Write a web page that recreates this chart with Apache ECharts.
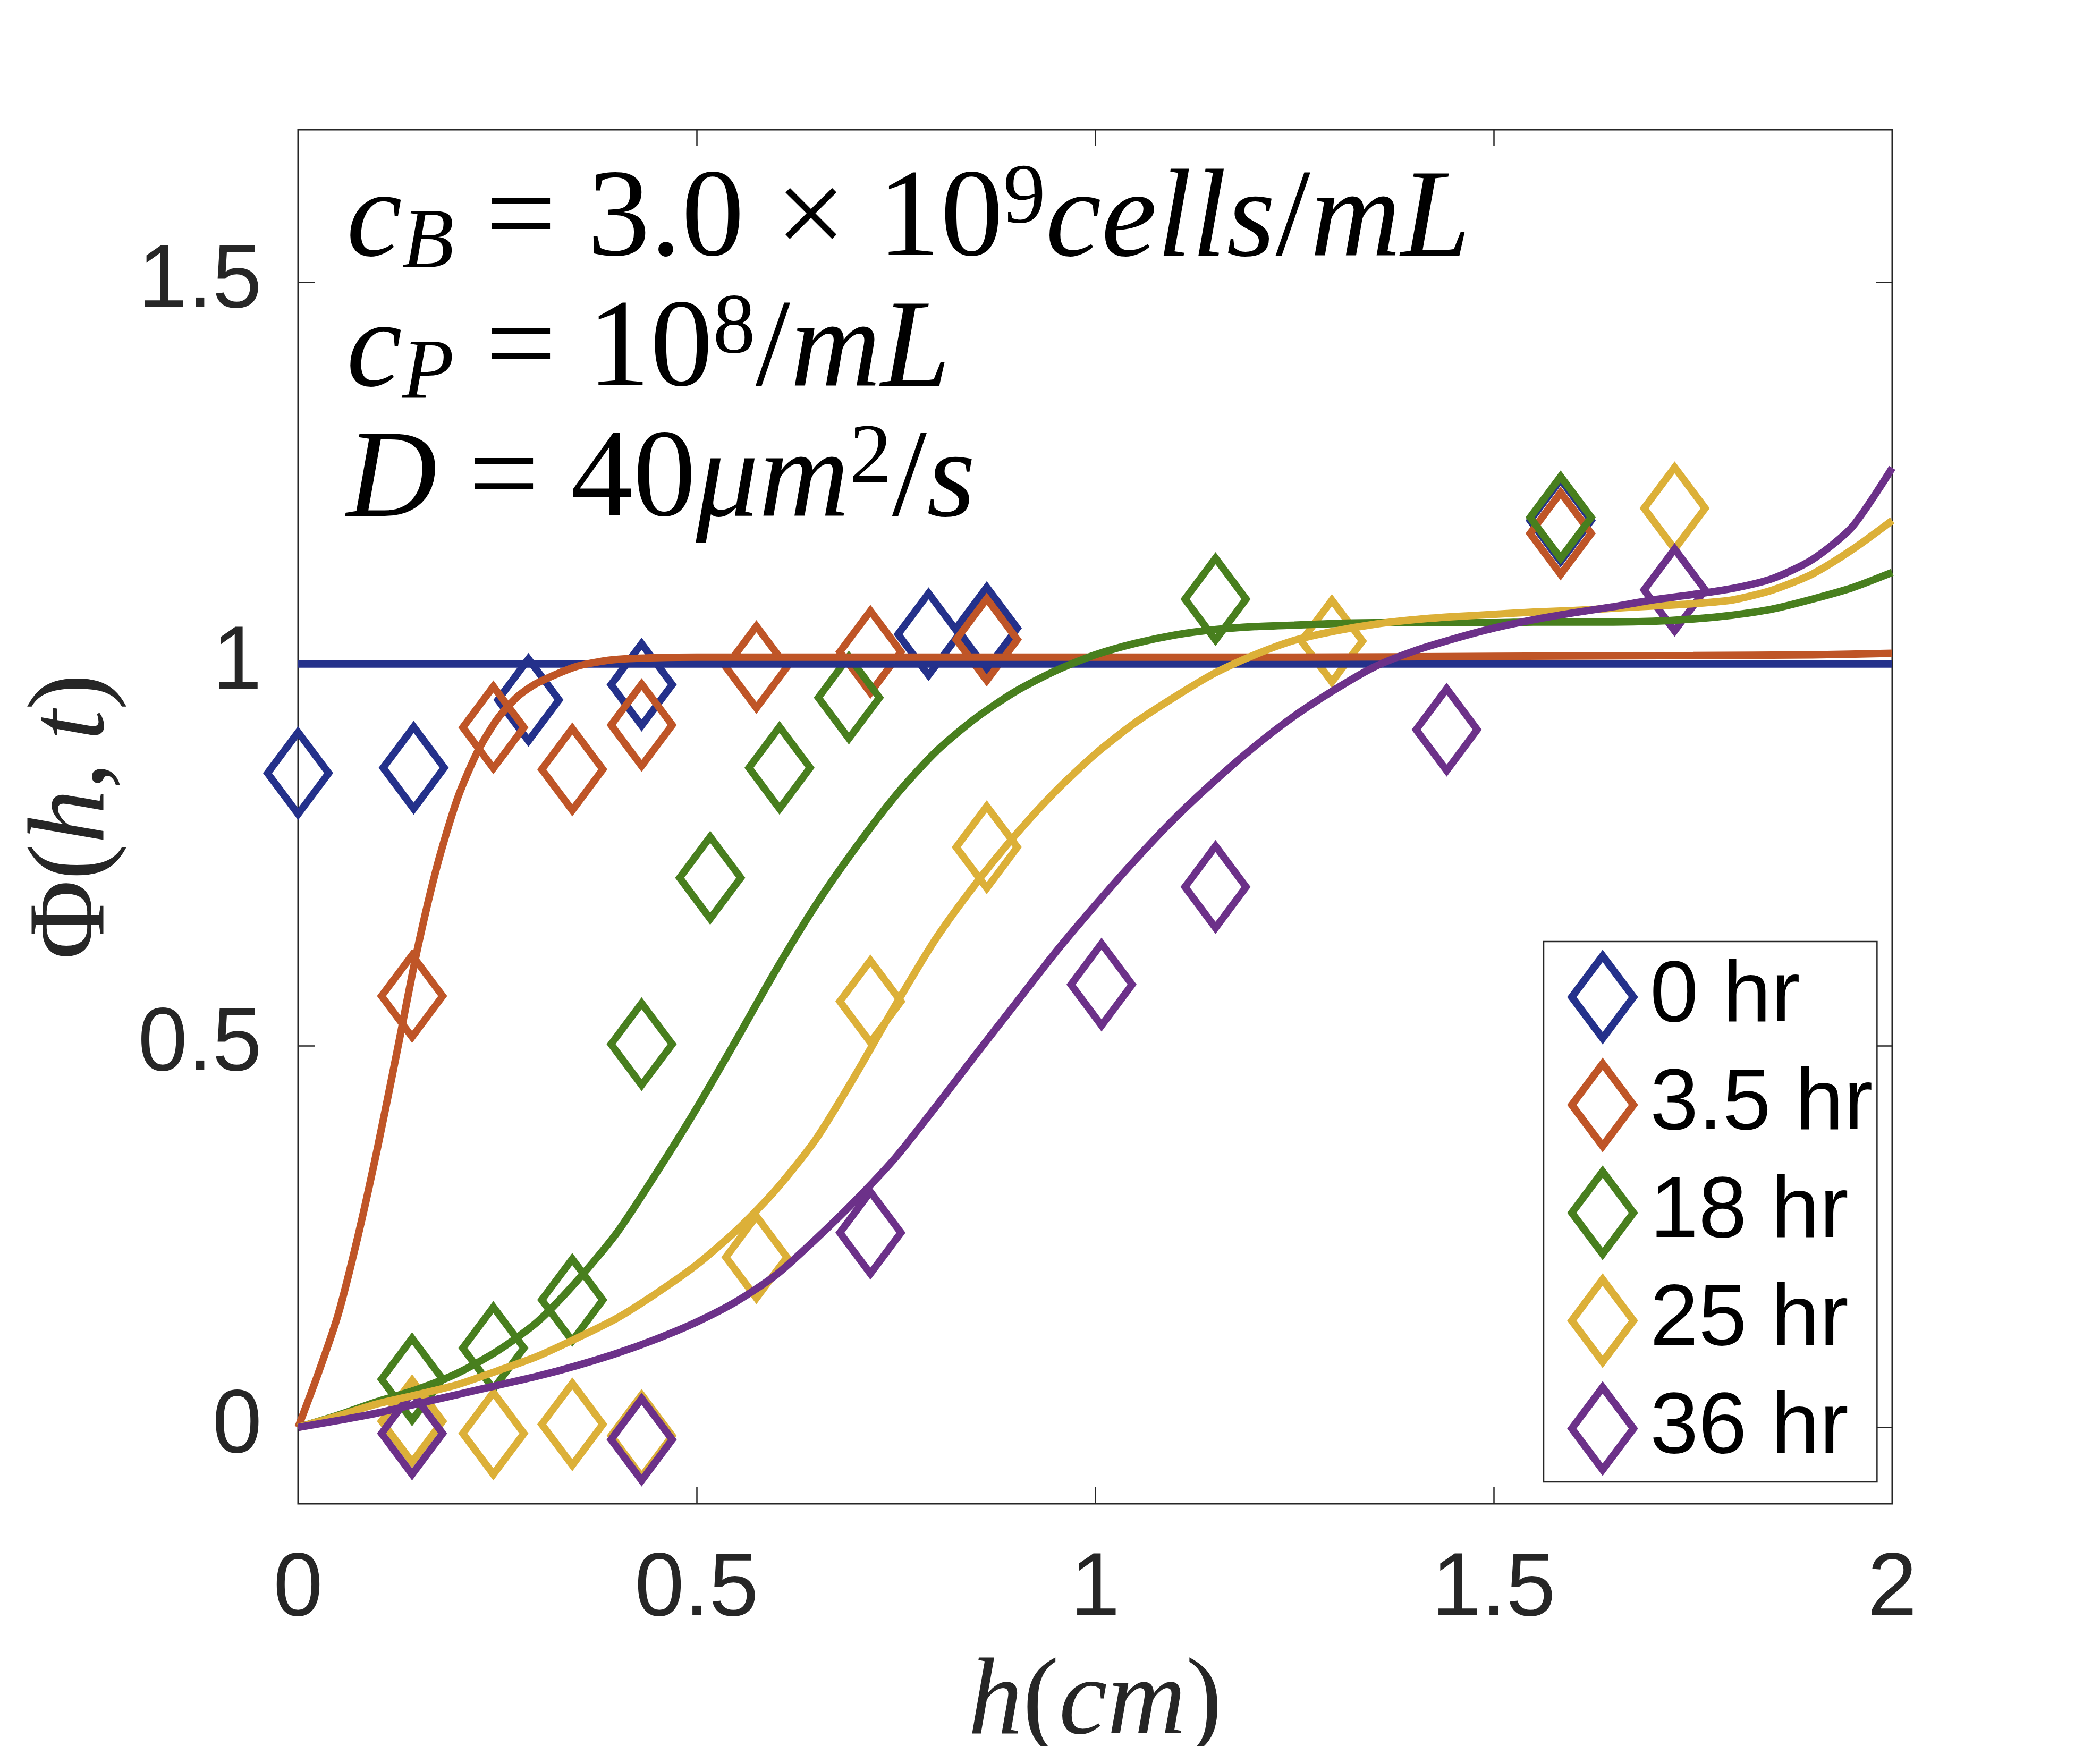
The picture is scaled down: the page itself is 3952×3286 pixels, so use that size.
<!DOCTYPE html>
<html>
<head>
<meta charset="utf-8">
<script src="https://cdn.jsdelivr.net/npm/echarts@6/dist/echarts.min.js"></script>
<style>
  html, body { margin: 0; padding: 0; background: #fff; }
  #chart { width: 3952px; height: 3286px; }
</style>
</head>
<body>
<div id="chart"></div>
<script>
// measured points, h (cm) and Phi(h,t)
const labels = ['0 hr', '3.5 hr', '18 hr', '25 hr', '36 hr'];
const colors = ['#24318b', '#bf5527', '#487f1e', '#dcb038', '#6c3189'];

const h0 = [0, 0.145, 0.289, 0.431, 0.791, 0.864, 1.584];
const phi0 = [0.857, 0.864, 0.953, 0.973, 1.039, 1.047, 1.188];
const h35 = [0.143, 0.245, 0.344, 0.431, 0.575, 0.718, 0.864, 1.584];
const phi35 = [0.565, 0.917, 0.862, 0.92, 0.996, 1.016, 1.032, 1.171];
const h18 = [0.143, 0.245, 0.344, 0.431, 0.517, 0.604, 0.691, 1.151, 1.584];
const phi18 = [0.063, 0.104, 0.167, 0.502, 0.72, 0.864, 0.956, 1.085, 1.192];
const h25 = [0.143, 0.245, 0.344, 0.431, 0.575, 0.718, 0.864, 1.297, 1.727];
const phi25 = [0.008, -0.008, 0.004, -0.011, 0.223, 0.558, 0.76, 1.03, 1.204];
const h36 = [0.143, 0.431, 0.718, 1.008, 1.151, 1.441, 1.727];
const phi36 = [-0.008, -0.016, 0.255, 0.58, 0.708, 0.914, 1.097];

// model curves
const hLine0 = [0, 2];
const fit0 = [1, 1];
const hFast = [0, 0.025, 0.05, 0.075, 0.1, 0.125, 0.15, 0.175, 0.2, 0.225, 0.25, 0.275, 0.3, 0.35, 0.4, 0.5, 0.75, 1, 1.25, 1.5, 1.75, 1.9, 2];
const fit35 = [0, 0.07, 0.147, 0.25, 0.368, 0.497, 0.628, 0.738, 0.824, 0.885, 0.928, 0.957, 0.975, 0.997, 1.006, 1.009, 1.009, 1.009, 1.009, 1.010, 1.011, 1.012, 1.014];
const hSlow = [0, 0.05, 0.1, 0.15, 0.2, 0.25, 0.3, 0.35, 0.4, 0.45, 0.5, 0.55, 0.6, 0.65, 0.7, 0.75, 0.8, 0.85, 0.9, 0.95,
  1, 1.05, 1.1, 1.15, 1.2, 1.25, 1.3, 1.35, 1.4, 1.45, 1.5, 1.55, 1.6, 1.65, 1.7, 1.75, 1.8, 1.85, 1.9, 1.95, 2];
const fit18 = [0, 0.016, 0.034, 0.05, 0.071, 0.1, 0.138, 0.192, 0.255, 0.334, 0.418, 0.508, 0.6, 0.685, 0.76, 0.828, 0.885, 0.929, 0.964, 0.991,
  1.012, 1.027, 1.038, 1.045, 1.049, 1.051, 1.053, 1.054, 1.054, 1.054, 1.054, 1.055, 1.055, 1.055, 1.056, 1.059, 1.064, 1.072, 1.085, 1.1, 1.12];
const fit25 = [0, 0.015, 0.031, 0.043, 0.056, 0.074, 0.093, 0.117, 0.143, 0.176, 0.213, 0.258, 0.312, 0.378, 0.463, 0.554, 0.64, 0.712, 0.776, 0.833,
  0.882, 0.923, 0.957, 0.988, 1.012, 1.031, 1.043, 1.052, 1.058, 1.062, 1.065, 1.068, 1.07, 1.073, 1.076, 1.079, 1.084, 1.097, 1.118, 1.15, 1.188];
const fit36 = [0, 0.009, 0.019, 0.031, 0.043, 0.055, 0.067, 0.081, 0.097, 0.116, 0.138, 0.165, 0.2, 0.247, 0.298, 0.354, 0.42, 0.488, 0.555, 0.622,
  0.684, 0.743, 0.798, 0.847, 0.892, 0.932, 0.966, 0.996, 1.017, 1.033, 1.047, 1.058, 1.067, 1.075, 1.084, 1.091, 1.099, 1.112, 1.137, 1.18, 1.257];

const yTicks = [0, 0.5, 1, 1.5];

const points = [[h0, phi0], [h35, phi35], [h18, phi18], [h25, phi25], [h36, phi36]];
const fits = [[hLine0, fit0], [hFast, fit35], [hSlow, fit18], [hSlow, fit25], [hSlow, fit36]];

const zip = (xs, ys) => xs.map((x, i) => [x, ys[i]]);

const AXIS = '#262626';
const SANS = '"Liberation Sans", Arial, Helvetica, sans-serif';
const SERIF = '"Liberation Serif", "Times New Roman", serif';
const MARK_W = 14;

const series = [];
labels.forEach((name, i) => {
  series.push({
    name,
    type: 'scatter',
    data: zip(points[i][0], points[i][1]),
    symbol: 'diamond',
    symbolSize: [115, 154],
    itemStyle: { color: 'rgba(0,0,0,0)', borderColor: colors[i], borderWidth: MARK_W, opacity: 1 },
    emphasis: { disabled: true },
  });
  series.push({
    name: name + ' model',
    type: 'line',
    data: zip(fits[i][0], fits[i][1]),
    showSymbol: false,
    smooth: 0.25,
    lineStyle: { width: 14, color: colors[i], opacity: 1 },
    itemStyle: { color: colors[i] },
    emphasis: { disabled: true },
  });
});

const tick = { inside: true, length: 31, lineStyle: { color: AXIS, width: 2.5 } };
const hiddenAxis = {
  axisLine: { show: false, onZero: false },
  axisLabel: { show: false },
  splitLine: { show: false },
};
const italicRich = {
  it: { fontFamily: SERIF, fontStyle: 'italic', fontSize: 205, color: AXIS },
  rm: { fontFamily: SERIF, fontSize: 205, color: AXIS },
};

const chart = echarts.init(document.getElementById('chart'), null, { renderer: 'canvas' });
chart.setOption({
  backgroundColor: '#fff',
  animation: false,
  grid: {
    left: 561, right: 391, top: 244, bottom: 456,
    outerBoundsMode: 'none', containLabel: false,
    show: true, borderColor: AXIS, borderWidth: 3, backgroundColor: '#fff',
  },
  xAxis: [{
    type: 'value', min: 0, max: 2, interval: 0.5,
    axisLine: { show: false, onZero: false },
    axisTick: tick,
    axisLabel: { margin: 80, fontSize: 168, fontFamily: SANS, color: AXIS },
    splitLine: { show: false },
    name: '{it|h}{rm|(}{it|cm}{rm|)}',
    nameLocation: 'middle',
    nameGap: 276,
    nameTextStyle: { rich: italicRich },
  }, {
    type: 'value', min: 0, max: 2, interval: 0.5, position: 'top',
    axisTick: tick,
    ...hiddenAxis,
  }],
  yAxis: [{
    type: 'value', min: -0.1, max: 1.7,
    axisLine: { show: false, onZero: false },
    axisTick: { ...tick, customValues: yTicks },
    axisLabel: { margin: 68, fontSize: 168, fontFamily: SANS, color: AXIS, customValues: yTicks },
    splitLine: { show: false },
    name: '{rm|Φ(}{it|h}{rm|,\u2009}{it|t}{rm|)}',
    nameLocation: 'middle',
    nameGap: 318,
    nameRotate: 90,
    nameTextStyle: { rich: italicRich },
  }, {
    type: 'value', min: -0.1, max: 1.7, position: 'right',
    axisTick: { ...tick, customValues: yTicks },
    ...hiddenAxis,
  }],
  legend: {
    data: labels.map((name, i) => ({
      name,
      itemStyle: { color: 'rgba(0,0,0,0)', borderColor: colors[i], borderWidth: MARK_W },
    })),
    orient: 'vertical',
    left: 2905,
    top: 1772,
    padding: [20, 8, 16, 46],
    itemWidth: 116,
    itemHeight: 155,
    itemGap: 34,
    itemStyle: { borderWidth: MARK_W },
    backgroundColor: '#fff',
    borderColor: AXIS,
    borderWidth: 2.5,
    borderRadius: 0,
    selectedMode: false,
    textStyle: { fontFamily: SANS, fontSize: 164, color: '#000', padding: [0, 0, 0, 26] },
  },
  graphic: [{
    type: 'text',
    left: 652,
    top: 296,
    z: 100,
    style: {
      text: '{it|c}{sub|B}{rm| = 3.0 × 10}{sup|9}{it|cells}{rm|/}{it|mL}\n' +
            '{it|c}{sub|P}{rm| = 10}{sup|8}{rm|/}{it|mL}\n' +
            '{it|D}{rm| = 40}{it|μm}{sup|2}{rm|/}{it|s}',
      rich: {
        it: { fontFamily: SERIF, fontStyle: 'italic', fontSize: 236, lineHeight: 245, fill: '#000' },
        rm: { fontFamily: SERIF, fontSize: 236, lineHeight: 245, fill: '#000' },
        sub: { fontFamily: SERIF, fontStyle: 'italic', fontSize: 160, lineHeight: 122, verticalAlign: 'bottom', fill: '#000' },
        sup: { fontFamily: SERIF, fontSize: 160, lineHeight: 84, verticalAlign: 'top', fill: '#000' },
      },
    },
  }],
  series,
});
</script>
</body>
</html>
